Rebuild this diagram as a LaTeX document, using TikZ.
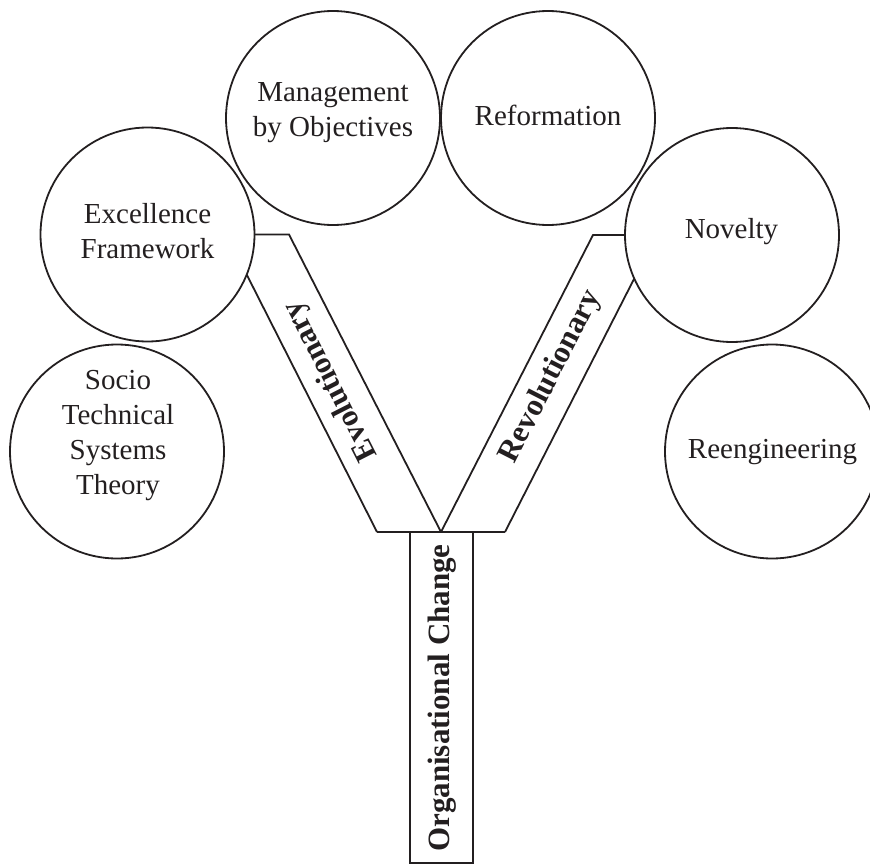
\documentclass[tikz,border=0pt]{standalone}
\usepackage{fontspec}
\setmainfont{Liberation Serif}
\definecolor{ink}{RGB}{35,31,32}
\begin{document}
\begin{tikzpicture}[x=1pt,y=-1pt,line width=1.8pt,line join=miter,
  bubble/.style={draw=ink, circle, minimum size=214pt, inner sep=0pt, outer sep=0pt},
  ctext/.style={font=\fontsize{29}{35}\selectfont, align=center, inner sep=0pt, text=ink},
  blabel/.style={font=\fontsize{31}{36}\selectfont\bfseries, inner sep=0pt, text=ink}]
\useasboundingbox (0,0) rectangle (870,867);
% circles
\node[bubble] (exc) at (147.5,234.5) {};
\node[bubble] (sts) at (117,451.5) {};
\node[bubble] (mbo) at (333,118) {};
\node[bubble] (ref) at (548,118) {};
\node[bubble] (nov) at (732,235) {};
\node[bubble] (ree) at (772,451.5) {};
% circle texts
\node[ctext] (exct) at (147.5,231.5) {Excellence\\Framework};
\node[ctext] (stst) at (118,436) {Socio\\Technical\\Systems\\Theory};
\node[ctext] (mbot) at (333,113) {Management\\by Objectives};
\node[ctext, anchor=base] (reft) at (548,125) {Reformation};
\node[ctext, anchor=base] (novt) at (731.5,238) {Novelty};
\node[ctext, anchor=base] (reet) at (772.5,458) {Reengineering};
% tree structure
\coordinate (bl) at (377,532);
\coordinate (bm) at (441,532);
\coordinate (br) at (505,532);
\coordinate (kl) at (289,234.5);
\coordinate (kr) at (593,235);
\begin{scope}[draw=ink]
\node[draw=ink, minimum width=63pt, minimum height=331pt, inner sep=0pt, outer sep=0pt] (trunk) at (441.5,697.5) {};
\draw (bl) -- (br);
\draw (bl) -- (exc.-22.9);
\draw (bm) -- (kl) -- (exc.east);
\draw (br) -- (nov.204);
\draw (bm) -- (kr) -- (nov.west);
\end{scope}
% labels
\node[blabel, rotate=90] (oc) at (442,698) {Organisational Change};
\node[blabel, rotate=117] (evo) at (331,381) {Evolutionary};
\node[blabel, rotate=63] (rev) at (551,377) {Revolutionary};
\end{tikzpicture}
\end{document}
